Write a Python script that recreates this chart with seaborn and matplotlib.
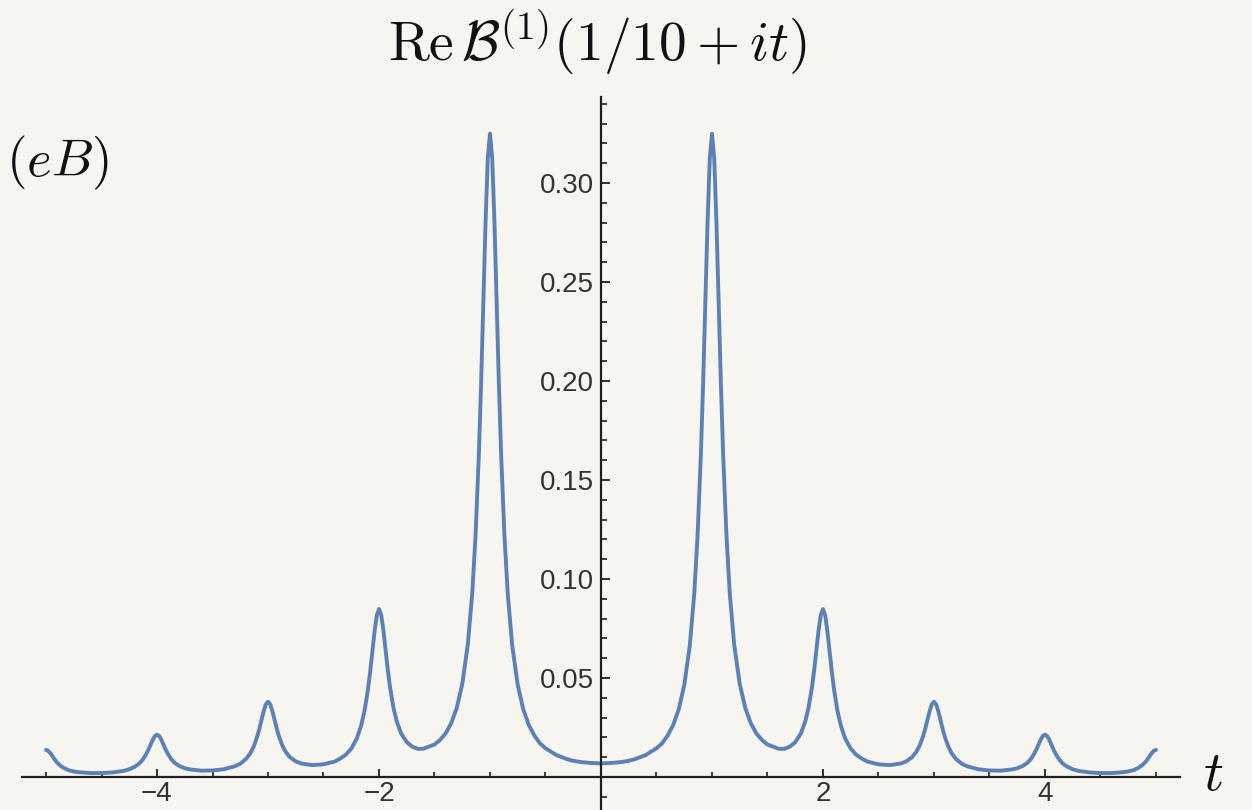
import numpy as np
import pandas as pd
import matplotlib
matplotlib.use("Agg")
import matplotlib.pyplot as plt
from matplotlib.ticker import FixedLocator, FixedFormatter
import seaborn as sns

# ---- data (curve is even in t; values for t >= 0) ----
T_POS = [0, .02, .04, .06, .08, .1, .13, .16, .2, .25, .3, .4, .5, .55, .6, .65, .7, .75, .8, .84, .87, .9, .92, .94, .96, .98,
         1, 1.02, 1.04, 1.06, 1.08, 1.1, 1.13, 1.16, 1.2, 1.25, 1.3, 1.35, 1.4, 1.45, 1.5, 1.6, 1.65, 1.7, 1.75, 1.8, 1.84, 1.87, 1.9, 1.92, 1.94, 1.96, 1.98,
         2, 2.02, 2.04, 2.06, 2.08, 2.1, 2.13, 2.16, 2.2, 2.25, 2.3, 2.35, 2.4, 2.5, 2.6, 2.7, 2.75, 2.8, 2.84, 2.87, 2.9, 2.92, 2.94, 2.96, 2.98,
         3, 3.02, 3.04, 3.06, 3.08, 3.1, 3.13, 3.16, 3.2, 3.25, 3.3, 3.4, 3.5, 3.6, 3.7, 3.75, 3.8, 3.84, 3.87, 3.9, 3.92, 3.94, 3.96, 3.98,
         4, 4.02, 4.04, 4.06, 4.08, 4.1, 4.13, 4.16, 4.2, 4.25, 4.3, 4.4, 4.5, 4.6, 4.7, 4.75, 4.8, 4.84, 4.87, 4.9, 4.92, 4.94, 4.96, 4.98, 5]
Y_POS = [0.0069, 0.0069, 0.0070, 0.0070, 0.0071, 0.0071, 0.0073, 0.0074, 0.0077, 0.0082, 0.0089, 0.0110, 0.0145, 0.0170, 0.0209, 0.0262,
         0.0341, 0.0464, 0.0664, 0.0925, 0.1219, 0.1633, 0.1988, 0.2393, 0.2803, 0.3124,
         0.3249, 0.3125, 0.2803, 0.2394, 0.1989, 0.1635, 0.1221, 0.0928, 0.0668, 0.0469, 0.0348, 0.0271, 0.0220, 0.0187, 0.0164, 0.0143,
         0.0142, 0.0153, 0.0176, 0.0219, 0.0280, 0.0351, 0.0451, 0.0538, 0.0638, 0.0739, 0.0818,
         0.0848, 0.0816, 0.0735, 0.0631, 0.0529, 0.0440, 0.0335, 0.0261, 0.0194, 0.0143, 0.0112, 0.0093, 0.0078, 0.0064, 0.0060, 0.0068,
         0.0079, 0.0099, 0.0126, 0.0158, 0.0203, 0.0242, 0.0286, 0.0331, 0.0367,
         0.0380, 0.0366, 0.0330, 0.0284, 0.0238, 0.0199, 0.0152, 0.0119, 0.0090, 0.0067, 0.0054, 0.0039, 0.0033, 0.0032, 0.0038, 0.0044,
         0.0056, 0.0071, 0.0089, 0.0115, 0.0136, 0.0162, 0.0187, 0.0207,
         0.0214, 0.0206, 0.0186, 0.0160, 0.0135, 0.0113, 0.0087, 0.0068, 0.0052, 0.0039, 0.0031, 0.0023, 0.0020, 0.0020, 0.0024, 0.0028,
         0.0035, 0.0046, 0.0057, 0.0073, 0.0087, 0.0103, 0.0120, 0.0132, 0.0137]
assert len(T_POS) == len(Y_POS)

X_MAJOR = [-4, -2, 2, 4]
X_LABELS = ["\u22124", "\u22122", "2", "4"]
X_MINOR = [-5, -4.5, -3.5, -3, -2.5, -1.5, -1, -0.5, 0.5, 1, 1.5, 2.5, 3, 3.5, 4.5, 5]
Y_MAJOR = [0.05, 0.10, 0.15, 0.20, 0.25, 0.30]
Y_LABELS = ["0.05", "0.10", "0.15", "0.20", "0.25", "0.30"]
Y_MINOR = [-0.01, 0.01, 0.02, 0.03, 0.04, 0.06, 0.07, 0.08, 0.09, 0.11, 0.12, 0.13, 0.14, 0.16, 0.17, 0.18, 0.19,
           0.21, 0.22, 0.23, 0.24, 0.26, 0.27, 0.28, 0.29, 0.31, 0.32, 0.33, 0.34]

TITLE = r"$\mathrm{Re}\,\mathcal{B}^{(1)}(1/10+it)$"
YLABEL = r"$(eB)$"
XLABEL = r"$t$"

# mirror (even function)
t_all = [-t for t in reversed(T_POS[1:])] + T_POS
y_all = list(reversed(Y_POS[1:])) + Y_POS
df = pd.DataFrame({"t": t_all, "val": y_all})

BG = "#F6F5EF"
LINE = "#5E81B5"
AX = "#1f1f1f"
TXT = "#333333"

sns.set_style("white")
plt.rcParams["font.family"] = ["Liberation Sans", "DejaVu Sans"]
plt.rcParams["mathtext.fontset"] = "cm"

W, H = 1252, 810
fig = plt.figure(figsize=(W / 100, H / 100), dpi=100, facecolor=BG)
x0px, scale_x = 601, 111.0
xlo, xhi = -5.22, 5.22
y0px, scale_y = 777, 1980.0
ytop_px = 97
ylo = -(H - y0px) / scale_y
yhi = (y0px - ytop_px) / scale_y
ax_left = x0px + xlo * scale_x
ax_w = (xhi - xlo) * scale_x
ax = fig.add_axes([ax_left / W, 0, ax_w / W, (H - ytop_px) / H])
ax.set_facecolor(BG)

sns.lineplot(data=df, x="t", y="val", ax=ax, color=LINE, lw=2.8, estimator=None, sort=False)
ax.set_xlim(xlo, xhi)
ax.set_ylim(ylo, yhi)
ax.set_xlabel("")
ax.set_ylabel("")

for s in ["top", "right"]:
    ax.spines[s].set_visible(False)
ax.spines["left"].set_position(("data", 0))
ax.spines["bottom"].set_position(("data", 0))
for s in ["left", "bottom"]:
    ax.spines[s].set_color(AX)
    ax.spines[s].set_linewidth(1.6)

ax.xaxis.set_major_locator(FixedLocator(X_MAJOR))
ax.xaxis.set_major_formatter(FixedFormatter(X_LABELS))
ax.xaxis.set_minor_locator(FixedLocator(X_MINOR))
ax.yaxis.set_major_locator(FixedLocator(Y_MAJOR))
ax.yaxis.set_major_formatter(FixedFormatter(Y_LABELS))
ax.yaxis.set_minor_locator(FixedLocator(Y_MINOR))

ax.tick_params(which="both", bottom=True, left=True, top=False, right=False)
ax.tick_params(axis="x", which="major", direction="in", length=6, width=1.3, color=AX,
               labelsize=20, labelcolor=TXT, pad=3)
ax.tick_params(axis="x", which="minor", direction="in", length=3.8, width=1.2, color=AX)
ax.tick_params(axis="y", which="major", direction="in", length=6.5, width=1.3, color=AX,
               labelsize=20, labelcolor=TXT, pad=5)
ax.tick_params(axis="y", which="minor", direction="in", length=4.3, width=1.2, color=AX)
ax.grid(False)

fig.text(597 / W, 1 - 61 / H, TITLE, ha="center", va="baseline", fontsize=40, color="#111111")
fig.text(6 / W, 1 - 176 / H, YLABEL, ha="left", va="baseline", fontsize=38, color="#111111")
fig.text(1203 / W, 1 - 790 / H, XLABEL, ha="left", va="baseline", fontsize=40, color="#111111")

fig.savefig("out.png", dpi=100, facecolor=BG)
